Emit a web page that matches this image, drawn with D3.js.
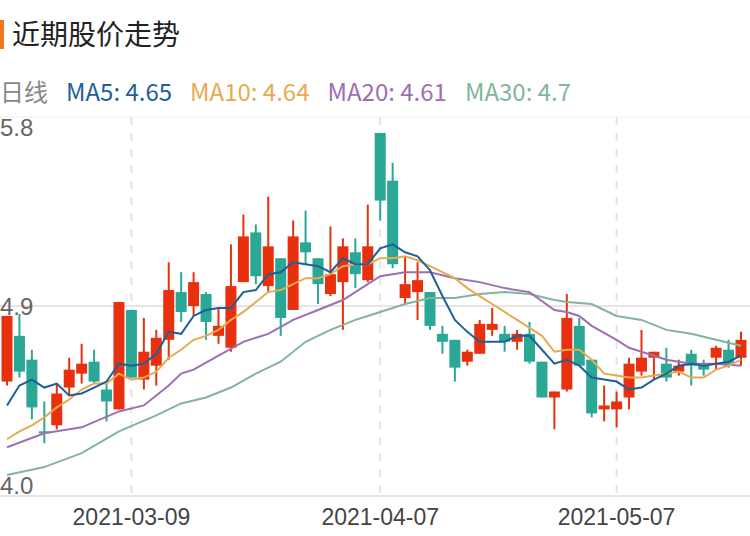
<!DOCTYPE html>
<html><head><meta charset="utf-8">
<script src="https://cdn.jsdelivr.net/npm/d3@7/dist/d3.min.js"></script>
<style>body{margin:0;background:#fff;font-family:"Noto Sans CJK SC","Noto Sans",sans-serif;}</style>
</head><body>
<svg id="chart" width="750" height="536"></svg>
<script>
// daily candles: open, close, high, low
var opens  = [4.52,4.75,4.63,4.27,4.30,4.49,4.56,4.62,4.48,4.38, 4.88,4.53,4.60,4.73,4.97,4.90,4.96,4.75,4.69,5.02, 5.27,5.00,5.14,4.88,5.22,5.14,4.96,5.02,5.17,5.03, 5.77,5.53,4.94,4.97,4.97,4.76,4.73,4.62,4.66,4.78, 4.76,4.72,4.76,4.62,4.44,4.48,4.80,4.63,4.38,4.38, 4.44,4.57,4.64,4.61,4.57,4.66,4.60,4.64,4.68,4.64];
var closes = [4.85,4.57,4.39,4.26,4.46,4.58,4.61,4.52,4.42,4.92, 4.54,4.67,4.74,4.98,4.87,5.02,4.82,4.80,5.00,5.25, 5.05,5.20,4.84,5.25,5.17,5.01,5.06,5.20,5.06,5.20, 5.43,5.11,5.01,5.03,4.80,4.72,4.59,4.67,4.81,4.81, 4.72,4.76,4.62,4.44,4.47,4.84,4.60,4.36,4.40,4.42, 4.61,4.64,4.67,4.54,4.60,4.60,4.58,4.69,4.60,4.73];
var highs  = [4.85,4.86,4.68,4.42,4.51,4.64,4.71,4.68,4.51,4.92, 4.88,4.84,4.78,5.12,5.07,5.07,4.97,4.89,5.21,5.36, 5.31,5.45,5.14,5.33,5.38,5.14,5.30,5.24,5.24,5.41, 5.77,5.62,5.15,5.12,4.97,4.80,4.73,4.68,4.83,4.89, 4.80,4.78,4.82,4.62,4.47,4.96,4.84,4.63,4.50,4.47, 4.64,4.78,4.67,4.69,4.63,4.68,4.63,4.70,4.73,4.77];
var lows   = [4.50,4.54,4.33,4.21,4.28,4.45,4.51,4.51,4.32,4.38, 4.54,4.48,4.50,4.63,4.82,4.85,4.73,4.71,4.67,5.02, 5.01,4.97,4.75,4.88,5.11,4.91,4.95,4.78,4.99,5.02, 5.33,5.09,4.91,4.83,4.78,4.66,4.52,4.60,4.66,4.75, 4.67,4.68,4.61,4.44,4.28,4.47,4.60,4.34,4.32,4.29, 4.38,4.55,4.53,4.52,4.55,4.50,4.55,4.58,4.59,4.60];

var ma5 = [4.40,4.50,4.53,4.49,4.51,4.45,4.46,4.49,4.52,4.61, 4.60,4.61,4.66,4.77,4.76,4.85,4.88,4.89,4.89,4.97, 4.98,5.06,5.07,5.12,5.11,5.10,5.07,5.14,5.11,5.11, 5.19,5.21,5.17,5.15,5.08,4.95,4.83,4.77,4.72,4.72, 4.72,4.75,4.75,4.68,4.61,4.63,4.60,4.54,4.53,4.52, 4.48,4.49,4.53,4.56,4.60,4.61,4.60,4.61,4.62,4.65];
var ma10 = [4.23,4.27,4.30,4.34,4.39,4.43,4.48,4.51,4.51,4.56, 4.53,4.54,4.57,4.64,4.68,4.73,4.75,4.78,4.83,4.87, 4.92,4.97,4.98,5.01,5.04,5.04,5.06,5.10,5.11,5.11, 5.14,5.14,5.15,5.13,5.10,5.07,5.04,4.99,4.95,4.91, 4.87,4.83,4.79,4.75,4.67,4.68,4.68,4.63,4.56,4.55, 4.54,4.54,4.55,4.56,4.57,4.54,4.54,4.58,4.60,4.63];
// MA20 / MA30 read at sampled candle indexes
var ma20Idx = [0,3,6,9,11,13,14,15,17,19,21,23,25,27,29,30,32,34,36,38,40,42,44,45,46,47,49,50,51,53,55,57,59];
var ma20    = [4.19,4.26,4.29,4.37,4.40,4.50,4.56,4.58,4.65,4.72,4.76,4.83,4.88,4.93,5.01,5.05,5.07,5.07,5.04,5.02,4.99,4.97,4.88,4.87,4.85,4.80,4.73,4.69,4.67,4.63,4.61,4.61,4.60];
var ma30Idx = [0,3,6,9,12,14,16,18,20,22,24,26,28,29,30,32,34,36,38,40,42,44,45,47,49,51,53,55,57,59];
var ma30    = [4.05,4.09,4.16,4.27,4.35,4.41,4.44,4.49,4.56,4.62,4.72,4.78,4.83,4.85,4.87,4.91,4.94,4.94,4.96,4.97,4.96,4.93,4.92,4.91,4.85,4.83,4.78,4.76,4.73,4.70];

var tickIdx = [10, 30, 49];
var tickLabels = ["2021-03-09", "2021-04-07", "2021-05-07"];
var yTicks = [4.0, 4.9, 5.8];

var UP = "#e8300e", DOWN = "#2aa795";
var maSeries = [
    {name: "MA5", last: "4.65", color: "#1f5f99", idx: d3.range(60), vals: ma5},
    {name: "MA10", last: "4.64", color: "#e8aa50", idx: d3.range(60), vals: ma10},
    {name: "MA20", last: "4.61", color: "#9d6fb3", idx: ma20Idx, vals: ma20},
    {name: "MA30", last: "4.7", color: "#82b59a", idx: ma30Idx, vals: ma30}
];

var svg = d3.select("#chart");
var x = d3.scaleLinear().domain([0, 59]).range([7, 741]);
var y = d3.scaleLinear().domain([4.0, 5.8]).range([485, 127]);

// title
svg.append("rect").attr("x", 0).attr("y", 20).attr("width", 4).attr("height", 29).attr("fill", "#f2771f");
svg.append("text").attr("x", 12).attr("y", 45).attr("font-size", 28).attr("fill", "#222").text("近期股价走势");

// legend
var lg = svg.append("text").attr("x", 0).attr("y", 101).attr("font-size", 24)
    .attr("font-family", "'Noto Sans CJK SC', 'Liberation Sans', sans-serif");
lg.append("tspan").attr("fill", "#888").text("日线");
maSeries.forEach(function(s) {
    lg.append("tspan").attr("dx", 18).attr("fill", s.color).text(s.name + ": " + s.last);
});

// grid
svg.append("line").attr("x1", 0).attr("x2", 750).attr("y1", 117).attr("y2", 117).attr("stroke", "#eee");
svg.append("line").attr("x1", 0).attr("x2", 750).attr("y1", y(4.9)).attr("y2", y(4.9)).attr("stroke", "#e6e6e6").attr("stroke-width", 2);
svg.append("line").attr("x1", 0).attr("x2", 750).attr("y1", 496).attr("y2", 496).attr("stroke", "#e6e6e6").attr("stroke-width", 2);
svg.selectAll("line.vg").data(tickIdx).enter().append("line").attr("class", "vg")
    .attr("x1", function(d) { return x(d); }).attr("x2", function(d) { return x(d); })
    .attr("y1", 117).attr("y2", 496)
    .attr("stroke", "#e4e4e4").attr("stroke-width", 2).attr("stroke-dasharray", "8,8");

// candles
var idx = d3.range(opens.length);
var cg = svg.append("g");
cg.selectAll("line.wick").data(idx).enter().append("line").attr("class", "wick")
    .attr("x1", function(i) { return x(i); }).attr("x2", function(i) { return x(i); })
    .attr("y1", function(i) { return y(highs[i]); }).attr("y2", function(i) { return y(lows[i]); })
    .attr("stroke", function(i) { return closes[i] >= opens[i] ? UP : DOWN; }).attr("stroke-width", 2);
cg.selectAll("rect.body").data(idx).enter().append("rect").attr("class", "body")
    .attr("x", function(i) { return x(i) - 5.5; }).attr("width", 11)
    .attr("y", function(i) { return y(Math.max(opens[i], closes[i])); })
    .attr("height", function(i) { return Math.max(2, Math.abs(y(opens[i]) - y(closes[i]))); })
    .attr("fill", function(i) { return closes[i] >= opens[i] ? UP : DOWN; });

// moving averages
var line = d3.line().x(function(d) { return x(d[0]); }).y(function(d) { return y(d[1]); });
maSeries.slice().reverse().forEach(function(s) {
    svg.append("path").datum(d3.zip(s.idx, s.vals)).attr("d", line)
        .attr("fill", "none").attr("stroke", s.color).attr("stroke-width", 2);
});

// y labels
svg.selectAll("text.yl").data(yTicks).enter().append("text").attr("class", "yl")
    .attr("x", 0).attr("y", function(d) { return y(d) + 9; })
    .attr("font-size", 24).attr("fill", "#666").attr("font-family", "'Liberation Sans', sans-serif")
    .text(function(d) { return d.toFixed(1); });

// x labels
svg.selectAll("text.xl").data(tickIdx).enter().append("text").attr("class", "xl")
    .attr("x", function(d) { return x(d); }).attr("y", 525).attr("text-anchor", "middle")
    .attr("font-size", 23).attr("fill", "#444").attr("font-family", "'Liberation Sans', sans-serif")
    .text(function(d, i) { return tickLabels[i]; });
</script>
</body></html>
